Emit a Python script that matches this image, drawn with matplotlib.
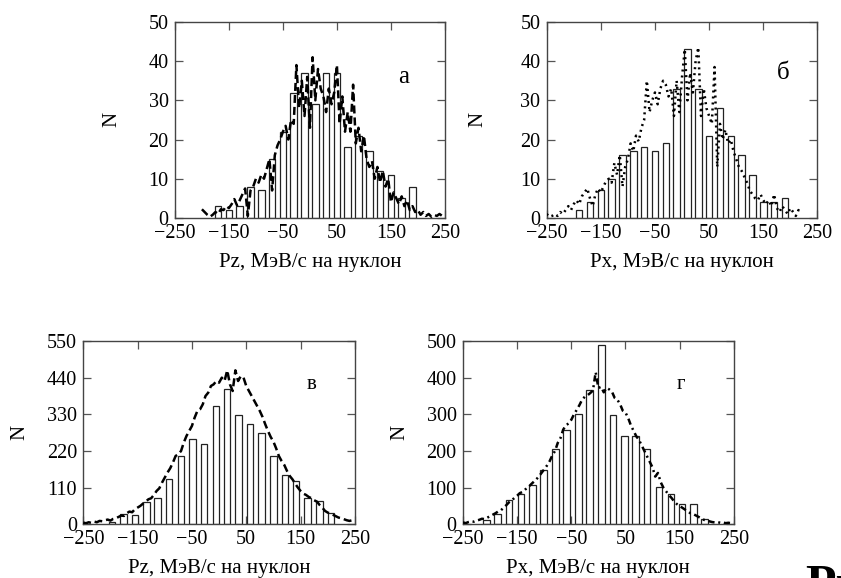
import numpy as np
import matplotlib
matplotlib.use("Agg")
import matplotlib.pyplot as plt

plt.rcParams['font.family'] = ['Liberation Serif', 'DejaVu Serif']

# ---------------- data ----------------
xticks = [-250, -150, -50, 50, 150, 250]
xlabels = ["\u2212250", "\u2212150", "\u221250", "50", "150", "250"]

# panel а : Pz, small sample
a_bin = [-170, -150, -130, -110, -90, -70, -50, -30, -10, 10, 30, 50, 70, 90, 110, 130, 150, 170, 190]
a_cnt = [3, 2, 3, 8, 7, 15, 22, 32, 37, 29, 37, 37, 18, 21, 17, 12, 11, 5, 8]
a_cx = np.arange(-200, 250, 5)
a_cy = [2.2, 1.5, 0.8, 0.3, 0.8, 1.5, 1.0, 2.2, 2.0, 3.0,
        2.5, 3.5, 4.8, 3.2, 4.5, 6.0, 7.5, 0.5, 7.0, 8.0,
        10.0, 9.0, 11.0, 10.0, 12.5, 15.0, 7.0, 16.0, 18.5, 20.0,
        22.0, 23.5, 20.0, 25.0, 24.0, 39.0, 28.0, 35.0, 26.0, 36.0,
        23.0, 41.0, 30.0, 38.0, 33.0, 31.0, 27.0, 33.0, 29.0, 32.0,
        39.0, 24.0, 31.0, 22.0, 27.0, 22.0, 34.0, 19.0, 23.0, 17.0,
        21.0, 15.0, 13.0, 14.5, 10.0, 13.0, 9.0, 12.0, 8.0, 10.0,
        4.0, 6.5, 5.0, 3.5, 5.5, 3.0, 4.5, 2.0, 3.0, 1.5,
        2.0, 0.8, 1.5, 0.5, 1.0, 0.3, 0.8, 0.5, 1.0, 0.5]

# panel б : Px, small sample
b_bin = [-190, -170, -150, -130, -110, -90, -70, -50, -30, -10, 10, 30, 50, 70, 90, 110, 130, 150, 170, 190]
b_cnt = [2, 4, 7, 10, 16, 17, 18, 17, 19, 33, 43, 33, 21, 28, 21, 16, 11, 4, 4, 5]
b_cx = np.arange(-250, 225, 5)
b_cy = [1.0, 0.3, 0.5, 1.0, 0.5, 1.5, 1.0, 2.0, 3.0, 2.0,
        3.5, 4.5, 3.5, 5.5, 6.5, 7.5, 5.0, 3.0, 6.0, 7.5,
        6.5, 8.0, 9.5, 10.0, 9.0, 14.0, 11.0, 16.0, 8.0, 13.0,
        15.0, 19.0, 17.0, 21.0, 19.5, 23.0, 25.0, 35.0, 27.0, 30.0,
        32.0, 29.0, 33.0, 35.0, 34.0, 31.0, 33.0, 26.0, 35.0, 27.0,
        36.0, 43.0, 30.0, 37.0, 32.0, 40.0, 43.5, 26.0, 33.0, 28.0,
        26.0, 24.0, 38.5, 13.0, 24.0, 20.0, 22.5, 19.0, 20.0, 17.0,
        15.0, 13.0, 12.0, 10.5, 9.0, 7.0, 6.0, 5.0, 4.5, 6.0,
        4.5, 3.5, 4.5, 3.0, 6.0, 2.5, 1.5, 3.0, 2.0, 1.0,
        2.5, 1.5, 0.5, 2.0, 1.0]

# panel в : Pz, large sample
v_bin = [-197, -176, -155, -134, -113, -92, -70, -49, -28, -6, 15, 36, 57, 78, 100, 121, 142, 163, 185, 206]
v_cnt = [6, 32, 27, 68, 79, 136, 206, 255, 241, 355, 406, 328, 300, 275, 206, 148, 131, 78, 70, 33]
v_cx = np.arange(-250, 255, 5)
v_cy = [5, 3, 6, 4, 8, 6, 10, 9, 12, 14,
        11, 16, 18, 22, 26, 25, 33, 38, 36, 45,
        50, 55, 62, 68, 75, 78, 88, 100, 108, 125,
        140, 155, 168, 185, 205, 210, 220, 245, 265, 280,
        295, 320, 340, 345, 360, 385, 395, 415, 420, 430,
        425, 440, 430, 462, 420, 400, 462, 430, 445, 440,
        415, 400, 385, 370, 355, 340, 322, 300, 280, 262,
        248, 228, 205, 190, 178, 160, 145, 135, 122, 110,
        100, 92, 88, 82, 78, 72, 68, 58, 50, 40,
        35, 32, 28, 24, 20, 18, 15, 12, 10, 12,
        8]

# panel г : Px, large sample
g_bin = [-207, -186, -165, -143, -122, -101, -79, -59, -37, -16, 6, 27, 48, 69, 90, 112, 134, 154, 176, 196]
g_cnt = [11, 27, 67, 82, 108, 149, 206, 258, 300, 366, 489, 298, 240, 240, 206, 102, 83, 56, 56, 15]
g_cx = np.arange(-250, 255, 5)
g_cy = [5, 3, 6, 8, 7, 10, 12, 15, 14, 18,
        22, 26, 30, 35, 38, 45, 52, 60, 65, 72,
        78, 85, 88, 95, 100, 108, 115, 122, 130, 140,
        150, 160, 172, 188, 200, 222, 235, 258, 270, 275,
        285, 300, 312, 325, 340, 348, 352, 358, 365, 415,
        372, 375, 360, 372, 368, 362, 345, 340, 328, 310,
        305, 290, 270, 255, 240, 230, 215, 200, 185, 170,
        155, 130, 140, 115, 100, 90, 80, 72, 62, 55,
        50, 45, 40, 35, 30, 28, 24, 20, 16, 12,
        10, 8, 6, 5, 6, 4, 5, 3, 4, 3,
        4]

panels = [
    dict(pos=[0.208, 0.623, 0.321, 0.339], bins=a_bin, cnt=a_cnt, cx=a_cx, cy=a_cy,
         ymax=50, yticks=[0, 10, 20, 30, 40, 50], ls=(0, (3.2, 1.6)), xl="Pz, МэВ/с на нуклон",
         tag="а", tagpos=(0.848, 0.72), tagsize=18, nx=-0.233),
    dict(pos=[0.650, 0.623, 0.322, 0.339], bins=b_bin, cnt=b_cnt, cx=b_cx, cy=b_cy,
         ymax=50, yticks=[0, 10, 20, 30, 40, 50], ls=(0, (0.8, 1.6)), xl="Px, МэВ/с на нуклон",
         tag="б", tagpos=(0.872, 0.74), tagsize=18, nx=-0.255),
    dict(pos=[0.099, 0.093, 0.323, 0.317], bins=v_bin, cnt=v_cnt, cx=v_cx, cy=v_cy,
         ymax=550, yticks=[0, 110, 220, 330, 440, 550], ls=(0, (3.2, 1.6)), xl="Pz, МэВ/с на нуклон",
         tag="в", tagpos=(0.842, 0.76), tagsize=15, nx=-0.232),
    dict(pos=[0.5505, 0.093, 0.322, 0.317], bins=g_bin, cnt=g_cnt, cx=g_cx, cy=g_cy,
         ymax=500, yticks=[0, 100, 200, 300, 400, 500], ls=(0, (2.5, 1.5, 0.8, 1.5)), xl="Px, МэВ/с на нуклон",
         tag="г", tagpos=(0.804, 0.76), tagsize=15, nx=-0.232),
]

fig = plt.figure(figsize=(8.41, 5.78), dpi=100)
for p in panels:
    ax = fig.add_axes(p["pos"])
    ax.bar(p["bins"], p["cnt"], width=12, facecolor="white", edgecolor="#222222", linewidth=0.9, zorder=2)
    ax.plot(p["cx"], p["cy"], color="black", linewidth=1.8, linestyle=p["ls"], zorder=3)
    ax.set_xlim(-250, 250)
    ax.set_ylim(0, p["ymax"])
    ax.set_xticks(xticks)
    ax.set_xticklabels(xlabels)
    ax.set_yticks(p["yticks"])
    ax.tick_params(direction="in", top=True, right=True, length=6, width=0.9,
                   labelsize=14.5, pad=4.5, colors="#555555", labelcolor="black")
    for s in ax.spines.values():
        s.set_linewidth(1.0)
        s.set_color("#444444")
    ax.set_ylabel("N", fontsize=15, va="center")
    ax.yaxis.set_label_coords(p["nx"], 0.5)
    ax.set_xlabel(p["xl"], fontsize=15, labelpad=7)
    ax.text(p["tagpos"][0], p["tagpos"][1], p["tag"], transform=ax.transAxes,
            fontsize=p["tagsize"], ha="center", va="center")

fig.text(0.958, -0.036, "Рис.", fontsize=36, fontweight="bold", ha="left", va="baseline")
fig.savefig("out.png", dpi=100)
